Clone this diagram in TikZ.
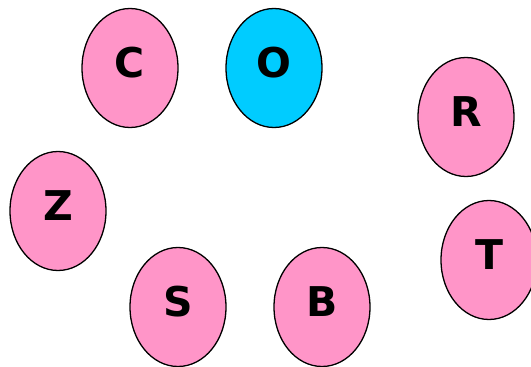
\documentclass[tikz,border=0pt]{standalone}
\usepackage{fontspec}
\setmainfont{DejaVu Sans}
\usetikzlibrary{shapes.geometric}
\definecolor{pinkfill}{HTML}{FF95C8}
\definecolor{bluefill}{HTML}{00CCFF}
\tikzset{
  letter/.style={ellipse, draw=black, line width=1.3pt, fill=pinkfill,
    minimum width=96pt, minimum height=119pt, inner sep=0pt,
    text height=30pt, text depth=12pt,
    font=\fontsize{41}{41}\selectfont\bfseries},
  bluel/.style={letter, fill=bluefill}
}
\begin{document}
\begin{tikzpicture}[x=1pt,y=-1pt]
\useasboundingbox (0,0) rectangle (531,367);
\node[letter] (C) at (130,68) {C};
\node[bluel] (O) at (274,68) {O};
\node[letter] (R) at (466,117) {R};
\node[letter] (Z) at (58,211) {Z};
\node[letter] (T) at (489,260) {T};
\node[letter] (S) at (178,307) {S};
\node[letter] (B) at (322,307) {B};
\end{tikzpicture}
\end{document}
